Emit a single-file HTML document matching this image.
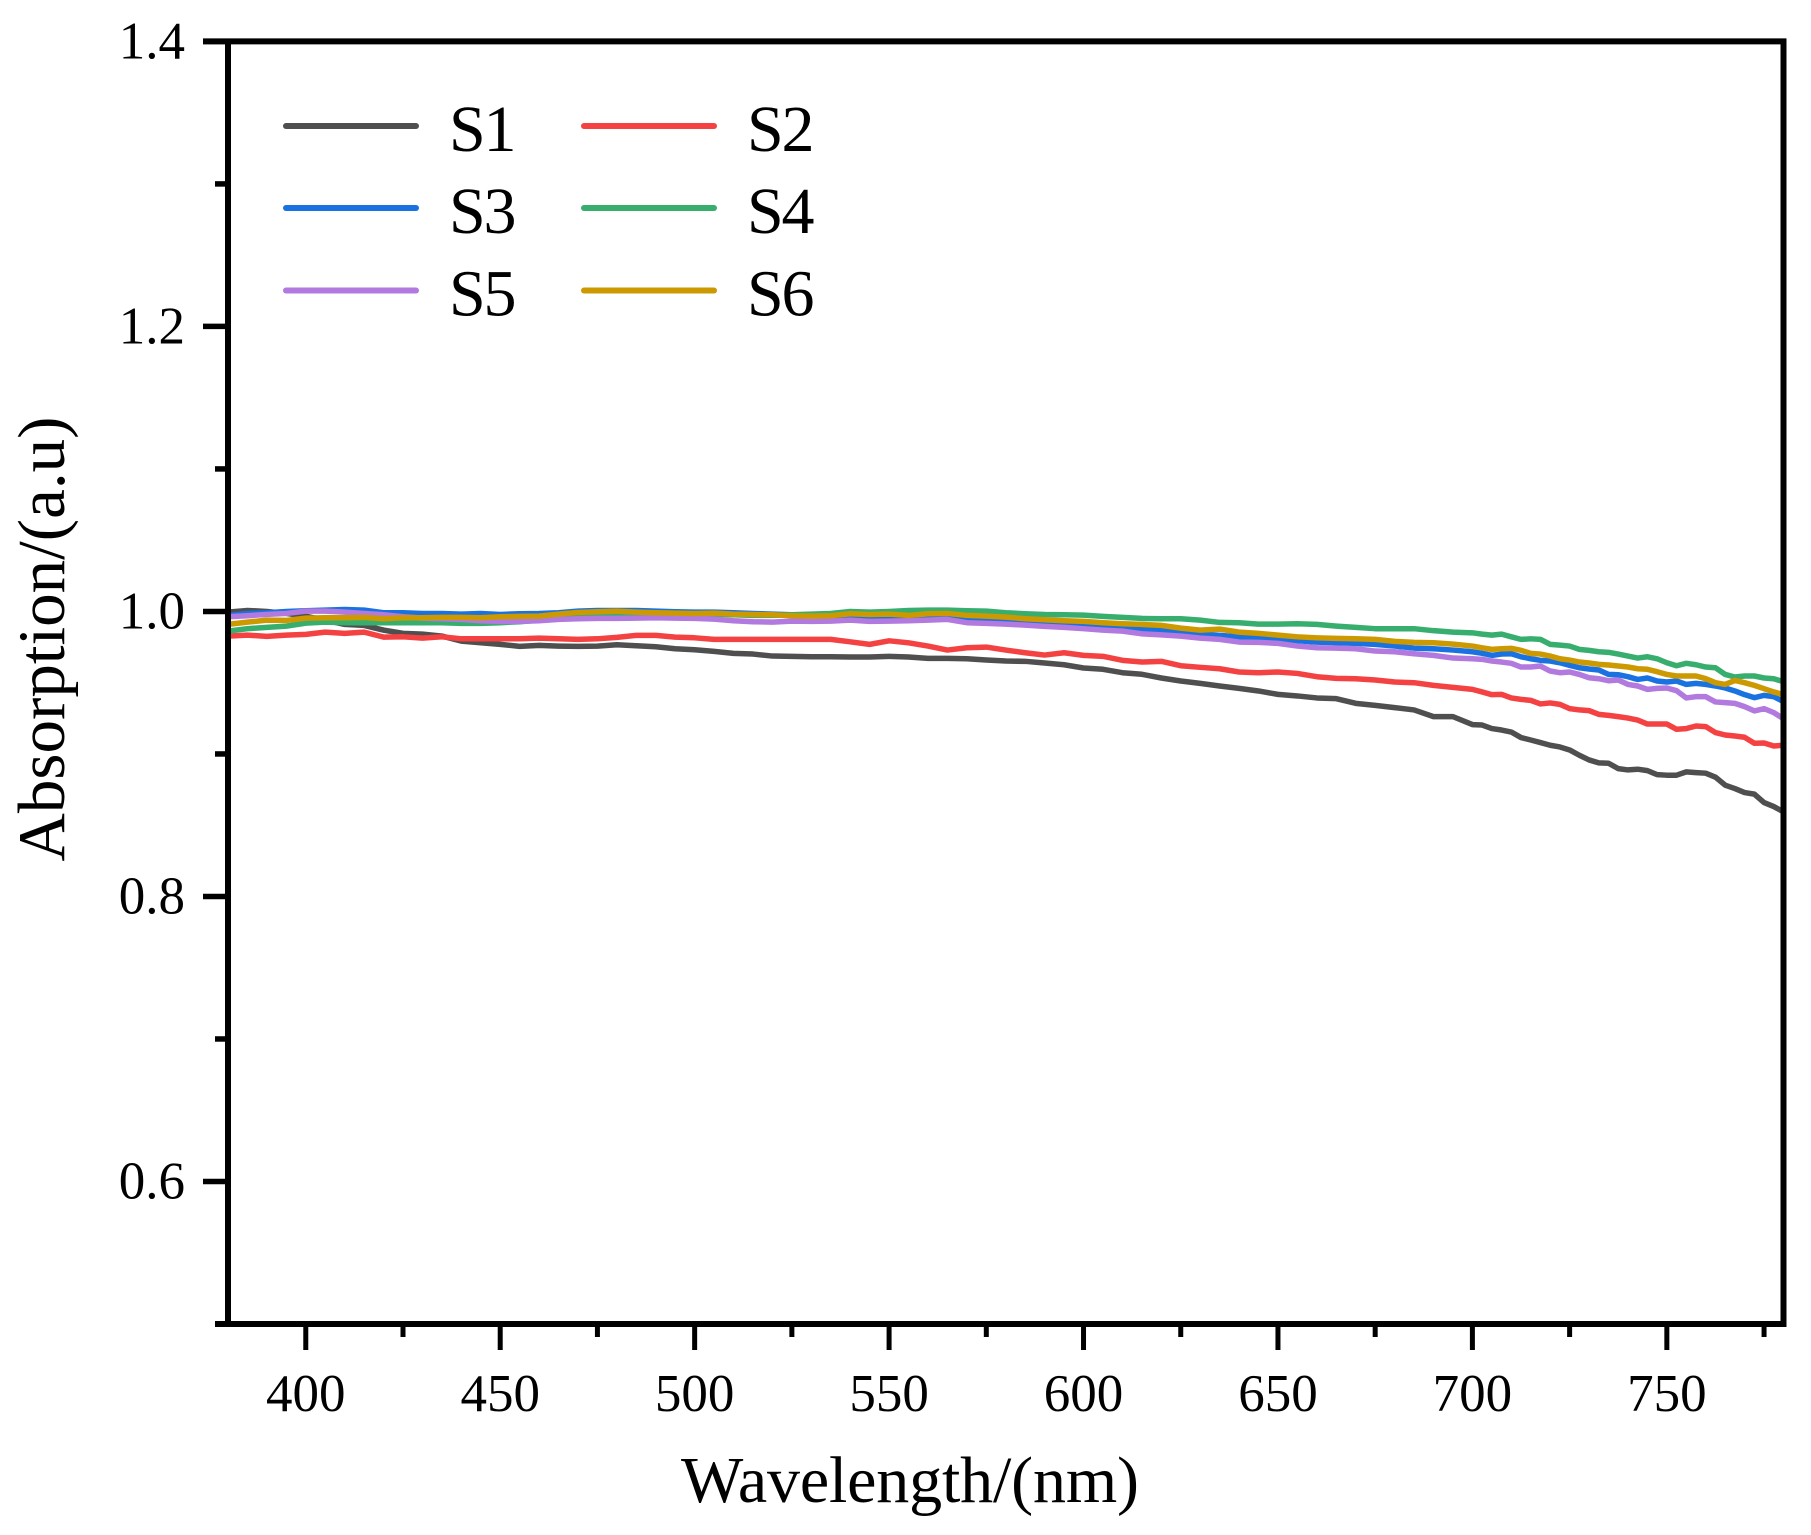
<!DOCTYPE html>
<html lang="en">
<head>
<meta charset="utf-8">
<title>Absorption spectra S1–S6</title>
<style>
html,body{margin:0;padding:0;background:#fff;}
svg{display:block;}
text{font-family:"Liberation Serif","Times New Roman",serif;fill:#000;}
</style>
</head>
<body>
<svg id="chart" xmlns="http://www.w3.org/2000/svg" width="1811" height="1535" viewBox="0 0 1811 1535"></svg>
<script>
const wavelengths = [380,385,390,395,400,405,410,415,420,425,430,435,440,445,450,455,460,465,470,475,480,485,490,495,500,505,510,515,520,525,530,535,540,545,550,555,560,565,570,575,580,585,590,595,600,605,610,615,620,625,630,635,640,645,650,655,660,665,670,675,680,685,690,695,700,702.5,705,707.5,710,712.5,715,717.5,720,722.5,725,727.5,730,732.5,735,737.5,740,742.5,745,747.5,750,752.5,755,757.5,760,762.5,765,767.5,770,772.5,775,777.5,780];
const s1Values = [0.9995,1.0007,1.0,0.9986,0.9967,0.9939,0.9909,0.9902,0.9869,0.9846,0.9841,0.9827,0.9792,0.9780,0.9769,0.9755,0.9762,0.9757,0.9755,0.9757,0.9766,0.9759,0.9752,0.9738,0.9731,0.9720,0.9706,0.9701,0.9687,0.9685,0.9682,0.9682,0.9680,0.9680,0.9685,0.9680,0.9671,0.9671,0.9668,0.9659,0.9652,0.9650,0.9638,0.9626,0.9603,0.9594,0.9570,0.9559,0.9533,0.9512,0.9495,0.9477,0.9460,0.9442,0.9418,0.9407,0.9393,0.9388,0.9355,0.9341,0.9325,0.9309,0.9262,0.9262,0.9206,0.9203,0.9178,0.9168,0.9154,0.9115,0.9098,0.9080,0.9061,0.9049,0.9028,0.8991,0.8958,0.8937,0.8935,0.8897,0.8888,0.8893,0.8883,0.8855,0.8851,0.8851,0.8874,0.8869,0.8865,0.8837,0.8781,0.8757,0.8729,0.8718,0.8659,0.8631,0.8594];
const s2Values = [0.9827,0.9834,0.9825,0.9834,0.9839,0.9855,0.9846,0.9855,0.9820,0.9822,0.9813,0.9822,0.9808,0.9808,0.9808,0.9808,0.9813,0.9808,0.9804,0.9808,0.9818,0.9832,0.9832,0.9820,0.9815,0.9804,0.9804,0.9804,0.9804,0.9804,0.9804,0.9804,0.9787,0.9769,0.9794,0.9780,0.9757,0.9729,0.9745,0.9750,0.9729,0.9710,0.9694,0.9710,0.9692,0.9685,0.9657,0.9645,0.9650,0.9619,0.9608,0.9598,0.9575,0.9570,0.9575,0.9565,0.9542,0.9530,0.9528,0.9519,0.9505,0.9500,0.9481,0.9467,0.9453,0.9435,0.9416,0.9418,0.9393,0.9383,0.9376,0.9351,0.9358,0.9348,0.9318,0.9309,0.9304,0.9278,0.9271,0.9262,0.9252,0.9238,0.9210,0.9210,0.9210,0.9173,0.9178,0.9196,0.9192,0.9150,0.9133,0.9126,0.9117,0.9075,0.9077,0.9056,0.9061];
const s3Values = [0.9972,0.9986,0.9991,1.0,1.0005,1.0009,1.0014,1.0009,0.9991,0.9991,0.9986,0.9986,0.9981,0.9986,0.9979,0.9984,0.9986,0.9991,1.0002,1.0007,1.0007,1.0007,1.0002,0.9998,0.9995,0.9995,0.9991,0.9986,0.9981,0.9977,0.9977,0.9972,0.9963,0.9956,0.9958,0.9953,0.9951,0.9956,0.9939,0.9935,0.9928,0.9921,0.9911,0.9902,0.9897,0.9886,0.9879,0.9879,0.9869,0.9855,0.9843,0.9832,0.9822,0.9815,0.9804,0.9794,0.9785,0.9780,0.9776,0.9769,0.9757,0.9743,0.9738,0.9729,0.9717,0.9706,0.9692,0.9701,0.9703,0.9682,0.9668,0.9657,0.9652,0.9640,0.9622,0.9605,0.9596,0.9589,0.9558,0.9556,0.9542,0.9523,0.9533,0.9512,0.9505,0.9512,0.9488,0.9495,0.9488,0.9477,0.9463,0.9442,0.9416,0.9395,0.9411,0.9402,0.9367];
const s4Values = [0.9862,0.9879,0.9888,0.9897,0.9918,0.9925,0.9921,0.9921,0.9921,0.9921,0.9921,0.9921,0.9916,0.9916,0.9921,0.9928,0.9939,0.9953,0.9967,0.9972,0.9974,0.9974,0.9974,0.9979,0.9984,0.9981,0.9977,0.9972,0.9972,0.9977,0.9981,0.9986,1.0,0.9995,1.0,1.0007,1.0009,1.0009,1.0005,1.0002,0.9991,0.9984,0.9979,0.9977,0.9974,0.9965,0.9958,0.9951,0.9949,0.9949,0.9939,0.9923,0.9921,0.9911,0.9911,0.9914,0.9909,0.9897,0.9888,0.9879,0.9879,0.9879,0.9865,0.9855,0.9850,0.9841,0.9834,0.9841,0.9822,0.9804,0.9808,0.9804,0.9769,0.9764,0.9757,0.9734,0.9727,0.9717,0.9713,0.9701,0.9687,0.9673,0.9682,0.9668,0.9640,0.9619,0.9636,0.9626,0.9610,0.9605,0.9558,0.9540,0.9547,0.9547,0.9533,0.9528,0.9507];
const s5Values = [0.9963,0.9970,0.9979,0.9986,1.0002,1.0002,0.9995,0.9986,0.9977,0.9963,0.9953,0.9949,0.9944,0.9935,0.9930,0.9930,0.9935,0.9944,0.9949,0.9951,0.9951,0.9953,0.9956,0.9953,0.9951,0.9946,0.9935,0.9928,0.9925,0.9932,0.9930,0.9932,0.9939,0.9930,0.9932,0.9935,0.9939,0.9944,0.9921,0.9916,0.9911,0.9904,0.9895,0.9888,0.9879,0.9869,0.9862,0.9843,0.9836,0.9827,0.9813,0.9804,0.9785,0.9783,0.9776,0.9757,0.9745,0.9743,0.9738,0.9722,0.9717,0.9703,0.9692,0.9673,0.9668,0.9664,0.9652,0.9645,0.9636,0.9610,0.9610,0.9617,0.9582,0.9570,0.9575,0.9558,0.9535,0.9528,0.9514,0.9519,0.9488,0.9477,0.9453,0.9460,0.9463,0.9444,0.9393,0.9402,0.9402,0.9365,0.9360,0.9355,0.9332,0.9302,0.9318,0.9290,0.9248];
const s6Values = [0.9909,0.9925,0.9939,0.9937,0.9953,0.9956,0.9956,0.9958,0.9949,0.9956,0.9956,0.9958,0.9958,0.9956,0.9963,0.9965,0.9967,0.9981,0.9993,0.9998,1.0002,0.9995,0.9991,0.9988,0.9986,0.9988,0.9981,0.9979,0.9977,0.9970,0.9967,0.9970,0.9984,0.9979,0.9981,0.9972,0.9984,0.9986,0.9972,0.9967,0.9960,0.9949,0.9942,0.9935,0.9930,0.9921,0.9914,0.9909,0.9902,0.9883,0.9869,0.9876,0.9855,0.9846,0.9834,0.9822,0.9815,0.9811,0.9808,0.9804,0.9790,0.9783,0.9780,0.9771,0.9757,0.9745,0.9734,0.9738,0.9741,0.9727,0.9706,0.9701,0.9687,0.9668,0.9659,0.9645,0.9638,0.9629,0.9624,0.9617,0.9610,0.9598,0.9594,0.9577,0.9558,0.9547,0.9547,0.9547,0.9528,0.9500,0.9488,0.9516,0.9500,0.9481,0.9458,0.9435,0.9416];
const seriesLabels = ["S1","S2","S3","S4","S5","S6"];
const xMajorTicks = [400,450,500,550,600,650,700,750];
const xMinorTicks = [425,475,525,575,625,675,725,775];
const yMajorTicks = [1.4,1.2,1.0,0.8,0.6];
const yMinorTicks = [1.3,1.1,0.9,0.7,0.5];

const svg = document.getElementById('chart');
const NS = 'http://www.w3.org/2000/svg';
const allSeries = [s1Values,s2Values,s3Values,s4Values,s5Values,s6Values];
const colors = ['#4f4f4f','#f44242','#1a72e0','#38ae6e','#b279de','#cc9900'];
const plot = {left:228, right:1783.5, top:41.4, bottom:1324};
const xDomain = [380,780];
const yDomain = [0.5,1.4];
function xScale(v){return plot.left+(v-xDomain[0])/(xDomain[1]-xDomain[0])*(plot.right-plot.left);}
function yScale(v){return plot.bottom-(v-yDomain[0])/(yDomain[1]-yDomain[0])*(plot.bottom-plot.top);}
function make(tag,attrs,parent){
  const el=document.createElementNS(NS,tag);
  for(const k in attrs){el.setAttribute(k,attrs[k]);}
  (parent||svg).appendChild(el);
  return el;
}

// series
allSeries.forEach(function(vals,i){
  const d=vals.map(function(v,j){return (j?'L':'M')+xScale(wavelengths[j]).toFixed(2)+' '+yScale(v).toFixed(2);}).join('');
  const line=make('path',{d:d,fill:'none',stroke:colors[i],'stroke-width':5.5,'stroke-linejoin':'round'});
  
  
});

// spines
const spineLeft=make('line',{x1:plot.left,x2:plot.left,y1:plot.top,y2:plot.bottom,stroke:'#000','stroke-width':6});


const spineRight=make('line',{x1:plot.right,x2:plot.right,y1:plot.top,y2:plot.bottom,stroke:'#000','stroke-width':6});


const spineTop=make('line',{x1:203,x2:plot.right+3,y1:plot.top,y2:plot.top,stroke:'#000','stroke-width':6});


const spineBottom=make('line',{x1:215,x2:plot.right+3,y1:plot.bottom,y2:plot.bottom,stroke:'#000','stroke-width':6});



// x ticks
xMajorTicks.forEach(function(v){
  const x=xScale(v);
  const t=make('line',{x1:x,x2:x,y1:plot.bottom,y2:1350,stroke:'#000','stroke-width':5});
  
  
  const l=make('text',{x:x,y:1411,'text-anchor':'middle','font-size':53});
  
  
  l.textContent=String(v);
});
xMinorTicks.forEach(function(v){
  const x=xScale(v);
  const t=make('line',{x1:x,x2:x,y1:plot.bottom,y2:1337,stroke:'#000','stroke-width':5});
  
  
});

// y ticks
yMajorTicks.forEach(function(v){
  const y=yScale(v);
  const t=make('line',{x1:203,x2:plot.left,y1:y,y2:y,stroke:'#000','stroke-width':5.5});
  
  
  const l=make('text',{x:185,y:y+17,'text-anchor':'end','font-size':53});
  
  
  l.textContent=v.toFixed(1);
});
yMinorTicks.forEach(function(v){
  const y=yScale(v);
  const t=make('line',{x1:215,x2:plot.left,y1:y,y2:y,stroke:'#000','stroke-width':5.5});
  
  
});

// axis titles
const xTitle=make('text',{x:910,y:1502,'text-anchor':'middle','font-size':66,textLength:458,lengthAdjust:'spacing'});


xTitle.textContent='Wavelength/(nm)';
const yTitle=make('text',{x:0,y:0,transform:'translate(64 639) rotate(-90)','text-anchor':'middle','font-size':67,textLength:445,lengthAdjust:'spacing'});


yTitle.textContent='Absorption/(a.u)';

// legend
const legendGroup=make('g',{});


const legendColX=[283,581];
const legendRowY=[126,208,290.5];
seriesLabels.forEach(function(name,i){
  const col=i%2, row=Math.floor(i/2);
  const x0=legendColX[col], y0=legendRowY[row];
  const key=make('line',{x1:x0+3,x2:x0+133,y1:y0,y2:y0,stroke:colors[i],'stroke-width':6,'stroke-linecap':'round'},legendGroup);
  
  
  const label=make('text',{x:x0+166,y:y0+25,'font-size':66,textLength:67.5,lengthAdjust:'spacing'},legendGroup);
  
  
  label.textContent=name;
});
</script>
</body>
</html>
